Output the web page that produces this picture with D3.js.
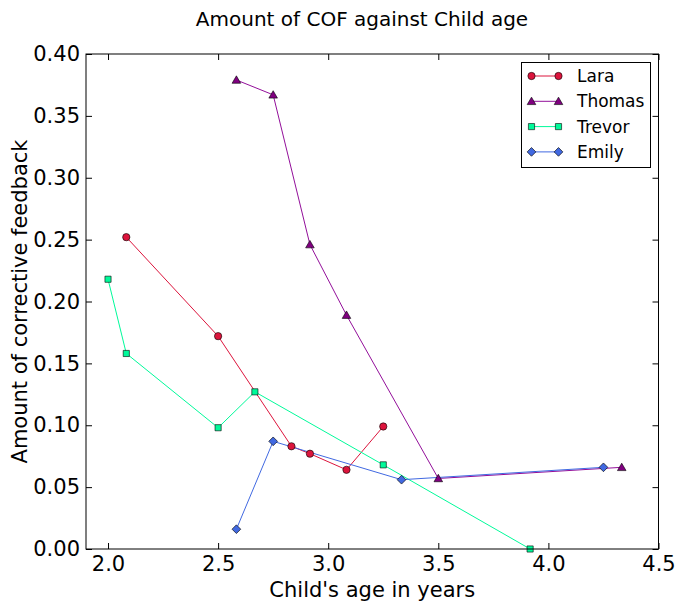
<!DOCTYPE html>
<html lang="en">
<head>
<meta charset="utf-8">
<script src="https://d3js.org/d3.v7.min.js"></script>
<style>
  body { margin: 0; background: #fff; }
  text { font-family: "DejaVu Sans", sans-serif; fill: #000; }
</style>
</head>
<body>
<script>
// child data: age in years, amount of corrective feedback
var laraAge = [2.083, 2.5, 2.833, 2.917, 3.083, 3.25];
var laraCof = [0.252, 0.172, 0.083, 0.077, 0.064, 0.099];

var thomasAge = [2.583, 2.75, 2.917, 3.083, 3.5, 4.333];
var thomasCof = [0.379, 0.367, 0.246, 0.189, 0.057, 0.066];

var trevorAge = [2.0, 2.083, 2.5, 2.667, 3.25, 3.917];
var trevorCof = [0.218, 0.158, 0.098, 0.127, 0.068, 0.0];

var emilyAge = [2.583, 2.75, 3.333, 4.25];
var emilyCof = [0.016, 0.087, 0.056, 0.066];

var xTicks = [2.0, 2.5, 3.0, 3.5, 4.0, 4.5];
var yTicks = [0, 0.05, 0.1, 0.15, 0.2, 0.25, 0.3, 0.35, 0.4];

var names = ["Lara", "Thomas", "Trevor", "Emily"];

var series = [
  {name: names[0], x: laraAge, y: laraCof, color: "#dc143c", line: "#dc143c", marker: "circle"},
  {name: names[1], x: thomasAge, y: thomasCof, color: "#800080", line: "#930f9a", marker: "triangle"},
  {name: names[2], x: trevorAge, y: trevorCof, color: "#00fa9a", line: "#00fa9a", marker: "square"},
  {name: names[3], x: emilyAge, y: emilyCof, color: "#4169e1", line: "#4169e1", marker: "diamond"}
];

var W = 675, H = 602;
var pLeft = 86, pRight = 658.5, pTop = 54, pBottom = 549;

var xScale = d3.scaleLinear().domain([1.9, 4.5]).range([pLeft, pRight]);
var yScale = d3.scaleLinear().domain([0, 0.4]).range([pBottom, pTop]);

var svg = d3.select("body").append("svg")
  .attr("width", W)
  .attr("height", H);

// marker shapes
var symbolFor = {
  circle: d3.symbol().type(d3.symbolCircle).size(42),
  triangle: d3.symbol().type(d3.symbolTriangle).size(32),
  square: d3.symbol().type(d3.symbolSquare).size(38),
  diamond: d3.symbol().type(d3.symbolSquare).size(38)
};

function drawMarker(g, s, cx, cy) {
  var m = g.append("path")
    .attr("d", symbolFor[s.marker]())
    .attr("fill", s.color)
    .attr("stroke", "#000")
    .attr("stroke-width", 0.6);
  if (s.marker == "diamond") {
    m.attr("transform", "translate(" + cx + "," + cy + ") rotate(45)");
  } else if (s.marker == "triangle") {
    m.attr("transform", "translate(" + cx + "," + (cy + 0.8) + ")");
  } else {
    m.attr("transform", "translate(" + cx + "," + cy + ")");
  }
}

var plot = svg.append("g");

series.forEach(function(s) {
  var pts = s.x.map(function(v, i) { return [v, s.y[i]]; });
  var line = d3.line()
    .x(function(d) { return xScale(d[0]); })
    .y(function(d) { return yScale(d[1]); });
  plot.append("path")
    .attr("d", line(pts))
    .attr("fill", "none")
    .attr("stroke", s.line)
    .attr("stroke-width", 1);
});

series.forEach(function(s) {
  s.x.forEach(function(v, i) {
    drawMarker(plot, s, xScale(v), yScale(s.y[i]));
  });
});

// axes, ticks inside on all four sides (matplotlib classic look)
var tickLen = 6;
var xBottom = d3.axisBottom(xScale).tickValues(xTicks).tickFormat(d3.format(".1f"))
  .tickSizeInner(-tickLen).tickSizeOuter(0).tickPadding(7);
var xTop = d3.axisTop(xScale).tickValues(xTicks).tickFormat("")
  .tickSizeInner(-tickLen).tickSizeOuter(0);
var yLeft = d3.axisLeft(yScale).tickValues(yTicks).tickFormat(d3.format(".2f"))
  .tickSizeInner(-tickLen).tickSizeOuter(0).tickPadding(6);
var yRight = d3.axisRight(yScale).tickValues(yTicks).tickFormat("")
  .tickSizeInner(-tickLen).tickSizeOuter(0);

svg.append("g").attr("transform", "translate(0," + pBottom + ")").call(xBottom);
svg.append("g").attr("transform", "translate(0," + pTop + ")").call(xTop);
svg.append("g").attr("transform", "translate(" + pLeft + ",0)").call(yLeft);
svg.append("g").attr("transform", "translate(" + pRight + ",0)").call(yRight);

svg.selectAll(".domain").attr("stroke", "none");
svg.selectAll(".tick line").attr("stroke", "#000");
svg.selectAll(".tick text")
  .style("font-family", "'DejaVu Sans', sans-serif")
  .style("font-size", "21px")
  .attr("fill", "#000");

svg.append("rect")
  .attr("x", pLeft).attr("y", pTop)
  .attr("width", pRight - pLeft).attr("height", pBottom - pTop)
  .attr("fill", "none").attr("stroke", "#000").attr("stroke-width", 1);

// title and axis labels
svg.append("text")
  .attr("x", 362)
  .attr("y", 26)
  .style("text-anchor", "middle")
  .style("font-size", "20px")
  .text("Amount of COF against Child age");

svg.append("text")
  .attr("x", (pLeft + pRight) / 2)
  .attr("y", 597)
  .style("text-anchor", "middle")
  .style("font-size", "21px")
  .text("Child's age in years");

svg.append("text")
  .attr("transform", "translate(27," + ((pTop + pBottom) / 2) + ") rotate(-90)")
  .style("text-anchor", "middle")
  .style("font-size", "21px")
  .text("Amount of corrective feedback");

// legend
var lg = svg.append("g");
lg.append("rect")
  .attr("x", 521.5).attr("y", 62.5)
  .attr("width", 129).attr("height", 105)
  .attr("fill", "#fff").attr("stroke", "#000").attr("stroke-width", 1);

series.forEach(function(s, i) {
  var yy = 76 + i * 25.3;
  lg.append("line")
    .attr("x1", 531.5).attr("x2", 558.5)
    .attr("y1", yy).attr("y2", yy)
    .attr("stroke", s.line).attr("stroke-width", 1);
  drawMarker(lg, s, 531.5, yy);
  drawMarker(lg, s, 558.5, yy);
  lg.append("text")
    .attr("x", 577)
    .attr("y", yy + 6)
    .style("font-size", "17px")
    .text(s.name);
});
</script>
</body>
</html>
